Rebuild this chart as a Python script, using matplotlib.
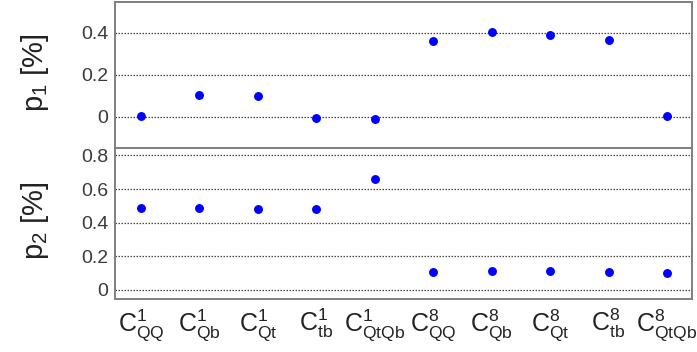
import matplotlib
matplotlib.use("Agg")
import matplotlib.pyplot as plt

# Operator coefficients and the two fitted parameters (in %)
operators = ["QQ", "Qb", "Qt", "tb", "QtQb", "QQ", "Qb", "Qt", "tb", "QtQb"]
colour_index = ["1", "1", "1", "1", "1", "8", "8", "8", "8", "8"]
p1_values = [0.005, 0.105, 0.100, -0.006, -0.010, 0.363, 0.405, 0.390, 0.366, 0.003]
p2_values = [0.486, 0.486, 0.484, 0.484, 0.657, 0.107, 0.115, 0.115, 0.107, 0.101]

p1_ticks = [0, 0.2, 0.4]
p1_ticklabels = ["0", "0.2", "0.4"]
p2_ticks = [0, 0.2, 0.4, 0.6, 0.8]
p2_ticklabels = ["0", "0.2", "0.4", "0.6", "0.8"]

plt.rcParams["font.family"] = ["Liberation Sans", "DejaVu Sans"]
plt.rcParams["mathtext.fontset"] = "custom"
plt.rcParams["mathtext.rm"] = "Liberation Sans"

xlabels = [r"$\mathregular{C^{%s}_{%s}}$" % (c, o) for c, o in zip(colour_index, operators)]
xpos = list(range(1, len(operators) + 1))

fig = plt.figure(figsize=(6.97, 3.52), dpi=100)
ax1 = fig.add_axes([0.165, 0.5795, 0.828, 0.4145])
ax2 = fig.add_axes([0.165, 0.1514, 0.828, 0.4281])

spine_col = "#7f7f7f"
text_col = "#3a3a3a"

for ax, vals, ticks, tlabels, ylab, ylim in [
    (ax1, p1_values, p1_ticks, p1_ticklabels, r"$\mathregular{p_1}$ [%]", (-0.15, 0.547)),
    (ax2, p2_values, p2_ticks, p2_ticklabels, r"$\mathregular{p_2}$ [%]", (-0.052, 0.844)),
]:
    ax.plot(xpos, vals, "o", color="#0000ff", markersize=5.4, zorder=3)
    ax.set_xlim(0.556, 10.43)
    ax.set_ylim(*ylim)
    ax.set_yticks(ticks)
    ax.set_yticklabels(tlabels)
    ax.yaxis.grid(True, linestyle=(0, (1.2, 1.2)), color="#444444", linewidth=0.9)
    ax.set_axisbelow(True)
    for s in ax.spines.values():
        s.set_color(spine_col)
        s.set_linewidth(1.4)
    ax.tick_params(axis="y", length=0, pad=5, labelsize=14, labelcolor=text_col)
    ax.set_ylabel(ylab, fontsize=21, color="#222222", va="center")
    ax.yaxis.set_label_coords(-0.139, 0.515)

ax1.set_xticks([])
ax2.set_xticks(xpos)
ax2.set_xticklabels(xlabels)
ax2.tick_params(axis="x", length=0, pad=6, labelsize=18, labelcolor="#222222")

fig.savefig("out.png", dpi=100)
